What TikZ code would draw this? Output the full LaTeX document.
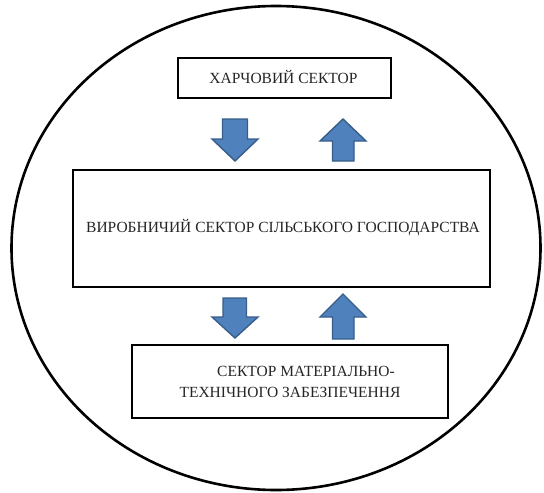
\documentclass[tikz,border=0pt]{standalone}
\usepackage{fontspec}
\setmainfont{Liberation Serif}
\definecolor{arrfill}{HTML}{4F81BD}
\definecolor{arrdraw}{HTML}{385D8A}
\begin{document}
\begin{tikzpicture}[x=1pt,y=-1pt,
  box/.style={draw=black,line width=2.6pt,fill=white},
  lbl/.style={font=\fontsize{15.5}{21}\selectfont,text=black!85,inner sep=0pt,align=center},
  blockarrow/.style={draw=arrdraw,fill=arrfill,line width=1.4pt,line join=miter}]
\useasboundingbox (0,0) rectangle (544,493);
\draw[line width=2.6pt] (276,248) ellipse [x radius=264.5, y radius=242];
% boxes
\draw[box] (178,58) rectangle (391,98);
\node[lbl] (top) at (283.5,77) {ХАРЧОВИЙ СЕКТОР};
\draw[box] (73,170) rectangle (490,287);
\node[lbl] (mid) at (283,228) {ВИРОБНИЧИЙ СЕКТОР СІЛЬСЬКОГО ГОСПОДАРСТВА};
\draw[box] (132,345) rectangle (448,418);
\node[lbl] (bot) at (290,382) {\hspace*{32pt}СЕКТОР МАТЕРІАЛЬНО-\\ТЕХНІЧНОГО ЗАБЕЗПЕЧЕННЯ};
% upper arrows
\draw[blockarrow] (222.5,119) -- (247.5,119) -- (247.5,139) -- (258,139) -- (235,161) -- (212,139) -- (222.5,139) -- cycle;
\draw[blockarrow] (332.5,161) -- (354,161) -- (354,141) -- (366,141) -- (343,119) -- (320,141) -- (332.5,141) -- cycle;
% lower arrows
\draw[blockarrow] (223,298) -- (246.5,298) -- (246.5,317) -- (258,317) -- (235,338) -- (212,317) -- (223,317) -- cycle;
\draw[blockarrow] (332.5,339) -- (354,339) -- (354,317) -- (366,317) -- (343,294) -- (320,317) -- (332.5,317) -- cycle;
\end{tikzpicture}
\end{document}
